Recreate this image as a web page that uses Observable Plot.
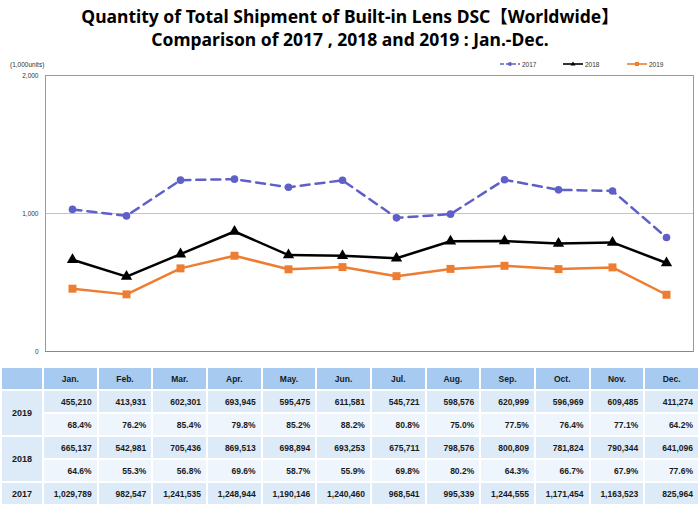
<!DOCTYPE html>
<html><head><meta charset="utf-8">
<script src="https://cdn.jsdelivr.net/npm/d3@7"></script>
<script src="https://cdn.jsdelivr.net/npm/@observablehq/plot@0.6"></script>
<style>
html,body{margin:0;padding:0;background:#fff;}
#wrap{position:relative;width:700px;height:508px;overflow:hidden;font-family:"Liberation Sans",Arial,sans-serif;}
#title{position:absolute;top:5px;left:0;width:700px;text-align:center;font-family:"Noto Sans","Noto Sans CJK JP",sans-serif;font-weight:bold;font-size:17.5px;line-height:23px;color:#000;}
#units{position:absolute;top:61px;left:10px;font-size:6.5px;color:#333;}
#legend{position:absolute;top:60px;left:0;width:700px;height:10px;font-size:6.5px;color:#333;}
.li{position:absolute;top:0;display:flex;align-items:center;gap:2px;}
#chart{position:absolute;top:60px;left:0;}
#tbl{position:absolute;top:366px;left:0;border-collapse:collapse;table-layout:fixed;width:700px;font-size:8.5px;font-weight:bold;color:#1a1a1a;}
#tbl td{border:2px solid #fff;height:23px;padding:0 5px;text-align:right;box-sizing:border-box;}
#tbl td.h{background:#A6CAF0;text-align:center;}
#tbl td.y{background:#DDEAF8;text-align:center;padding:0;font-size:9px;}
#tbl td.v{background:#DDEAF8;}
#tbl td.p{background:#EEF5FD;}
</style></head>
<body><div id="wrap">
<div id="title">Quantity of Total Shipment of Built-in Lens DSC【Worldwide】<br>Comparison of 2017 , 2018 and 2019 : Jan.-Dec.</div>
<div id="chart"></div>
<div id="units">(1,000units)</div>
<div id="legend"></div>
<table id="tbl"></table>
</div>
<script>
const months = ["Jan.","Feb.","Mar.","Apr.","May.","Jun.","Jul.","Aug.","Sep.","Oct.","Nov.","Dec."];
const v2019 = [455210,413931,602301,693945,595475,611581,545721,598576,620999,596969,609485,411274];
const v2018 = [665137,542981,705436,869513,698894,693253,675711,798576,800809,781824,790344,641096];
const v2017 = [1029789,982547,1241535,1248944,1190146,1240460,968541,995339,1244555,1171454,1163523,825964];
const p2019 = ["68.4%","76.2%","85.4%","79.8%","85.2%","88.2%","80.8%","75.0%","77.5%","76.4%","77.1%","64.2%"];
const p2018 = ["64.6%","55.3%","56.8%","69.6%","58.7%","55.9%","69.8%","80.2%","64.3%","66.7%","67.9%","77.6%"];
const yTicks = [0,1000,2000];
const years = ["2017","2018","2019"];
const colors = {"2017":"#5E60C8","2018":"#000000","2019":"#ED7D31"};

const rows = [];
for (const [yr, arr] of [["2017",v2017],["2018",v2018],["2019",v2019]])
  arr.forEach((v,i)=>rows.push({year:yr, month:months[i], value:v/1000}));
const of = y => rows.filter(d=>d.year===y);

const fmt = d3.format(",");
const chart = Plot.plot({
  width:700, height:300,
  marginLeft:45, marginRight:7, marginTop:15, marginBottom:9,
  style:{fontFamily:"Liberation Sans, Arial, sans-serif", fontSize:"6.5px", color:"#333", background:"transparent"},
  x:{type:"point", domain:months, padding:0.5, axis:null},
  y:{domain:[0,2000], ticks:yTicks, tickFormat:fmt, tickSize:0, tickPadding:7, label:null},
  marks:[
    Plot.ruleY([1000],{stroke:"#c4c4c4", strokeWidth:1}),
    Plot.frame({stroke:"#9a9a9a", strokeWidth:1}),
    Plot.ruleY([0],{stroke:"#888"}),
    Plot.line(of("2017"),{x:"month", y:"value", stroke:colors["2017"], strokeWidth:2.5, strokeDasharray:"9,6"}),
    Plot.line(of("2018"),{x:"month", y:"value", stroke:colors["2018"], strokeWidth:2.5}),
    Plot.line(of("2019"),{x:"month", y:"value", stroke:colors["2019"], strokeWidth:2.5}),
    Plot.dot(of("2017"),{x:"month", y:"value", fill:colors["2017"], r:3.8, symbol:"circle"}),
    Plot.dot(of("2018"),{x:"month", y:"value", fill:colors["2018"], r:4.2, symbol:"triangle"}),
    Plot.dot(of("2019"),{x:"month", y:"value", fill:colors["2019"], r:4.5, symbol:"square"})
  ]
});
document.getElementById("chart").appendChild(chart);

// legend
const leg = document.getElementById("legend");
const legPos = {"2017":500,"2018":563,"2019":627};
const legMark = {"2017":'<circle cx="10" cy="4" r="2" fill="#5E60C8"/>',"2018":'<path d="M10,1.5 L12.5,5.5 L7.5,5.5Z" fill="#000"/>',"2019":'<rect x="8" y="2" width="4" height="4" fill="#ED7D31"/>'};
for (const y of years) {
  const el = document.createElement("div");
  el.className = "li";
  el.style.left = legPos[y]+"px";
  const dash = y==="2017" ? ' stroke-dasharray="4,2"' : '';
  el.innerHTML = `<svg width="20" height="8"><line x1="0" x2="20" y1="4" y2="4" stroke="${colors[y]}" stroke-width="1.6"${dash}/>${legMark[y]}</svg><span>${y}</span>`;
  leg.appendChild(el);
}

// table
const tbl = document.getElementById("tbl");
let html = '<colgroup><col style="width:42px">' + months.map(()=>'<col>').join('') + '</colgroup>';
html += '<tr><td class="h"></td>' + months.map(m=>`<td class="h">${m}</td>`).join('') + '</tr>';
html += '<tr><td class="y" rowspan="2">2019</td>' + v2019.map(v=>`<td class="v">${fmt(v)}</td>`).join('') + '</tr>';
html += '<tr>' + p2019.map(p=>`<td class="p">${p}</td>`).join('') + '</tr>';
html += '<tr><td class="y" rowspan="2">2018</td>' + v2018.map(v=>`<td class="v">${fmt(v)}</td>`).join('') + '</tr>';
html += '<tr>' + p2018.map(p=>`<td class="p">${p}</td>`).join('') + '</tr>';
html += '<tr><td class="y">2017</td>' + v2017.map(v=>`<td class="v">${fmt(v)}</td>`).join('') + '</tr>';
tbl.innerHTML = html;
</script>
</body></html>
